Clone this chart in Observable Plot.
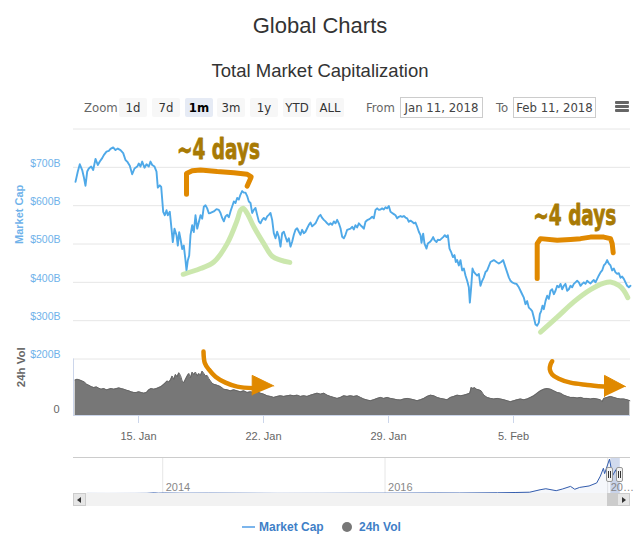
<!DOCTYPE html>
<html><head><meta charset="utf-8">
<script src="https://cdn.jsdelivr.net/npm/d3@7"></script>
<script src="https://cdn.jsdelivr.net/npm/@observablehq/plot@0.6"></script>
<style>
body{margin:0;background:#fff;}
#root{position:relative;width:640px;height:537px;overflow:hidden;background:#fff;font-family:"Liberation Sans",Arial,sans-serif;}
#root svg{display:block;overflow:visible;}
.narrow{font-family:"Liberation Sans Narrow","DejaVu Sans Condensed","Liberation Sans",sans-serif;font-stretch:condensed;}
</style></head><body><div id="root"></div><script>
// ---------- DATA ----------
// time is given as days after 11 Jan 2018 00:00 UTC
const BASE = Date.UTC(2018, 0, 11);
const viewRange = [0.36, 31.552];               // Jan 11 2018 -> Feb 11 2018
const marketCap = [ // [day, $B]
[0.472,662],[0.601,689],[0.713,708],[0.847,693],[0.937,675],[1.032,652],[1.127,689],[1.217,697],[1.351,702],[1.463,693],
[1.592,722],[1.721,706],[1.833,715],[1.967,724],[2.057,732],[2.208,741],[2.337,743],[2.432,748],[2.583,752],[2.712,745],
[2.841,749],[2.992,745],[3.143,737],[3.272,719],[3.367,715],[3.513,704],[3.647,682],[3.776,697],[3.927,702],[4.017,710],
[4.112,702],[4.207,715],[4.336,699],[4.448,708],[4.577,702],[4.672,715],[4.767,706],[4.896,702],[5.008,689],[5.081,647],
[5.193,653],[5.271,649],[5.383,584],[5.473,575],[5.568,588],[5.641,575],[5.753,584],[5.848,540],[5.921,505],[6.016,540],
[6.128,523],[6.201,496],[6.279,531],[6.352,513],[6.447,487],[6.537,496],[6.632,457],[6.688,431],[6.761,457],[6.839,470],
[6.912,523],[7.007,549],[7.097,531],[7.192,575],[7.287,540],[7.377,557],[7.472,575],[7.567,566],[7.657,597],[7.752,601],
[7.847,593],[7.937,580],
[8.032,581],[8.219,585],[8.368,591],[8.499,589],[8.592,581],[8.685,568],[8.779,559],[8.872,572],[8.965,576],[9.059,570],
[9.152,585],[9.245,598],[9.339,611],[9.432,607],[9.525,620],[9.619,616],[9.712,629],[9.805,638],[9.899,634],[9.992,634],
[10.085,625],[10.179,611],[10.272,607],[10.365,581],[10.459,589],[10.552,594],[10.645,576],[10.739,559],[10.832,554],[10.925,563],
[11.019,568],[11.112,563],[11.205,572],[11.299,576],[11.392,581],[11.485,563],[11.579,528],[11.672,515],[11.765,532],[11.859,519],
[11.952,493],[12.045,528],[12.139,532],[12.232,519],[12.325,506],[12.419,515],[12.512,493],[12.605,506],[12.699,524],[12.792,537],
[12.885,541],[12.979,532],[13.072,524],[13.165,537],[13.259,528],[13.352,532],[13.445,541],[13.539,550],[13.632,556],[13.725,546],
[13.819,550],[13.912,554],[14.005,563],[14.099,572],[14.192,576],[14.285,568],[14.379,563],[14.472,559],[14.565,554],[14.659,550],
[14.752,554],[14.845,550],[14.939,559],[15.032,554],[15.125,563],[15.219,554],[15.312,541],[15.405,519],[15.499,515],[15.592,524],
[15.685,537],
[15.872,540],[15.965,545],[16.059,538],[16.152,549],[16.245,543],[16.339,554],[16.432,549],[16.525,545],[16.619,540],[16.712,558],
[16.805,562],[16.899,564],[16.992,567],[17.085,571],[17.179,567],[17.272,589],[17.365,593],[17.459,589],[17.552,590],[17.645,593],
[17.739,590],[17.832,596],[17.925,593],[18.019,599],[18.112,584],[18.205,581],[18.299,578],[18.392,575],[18.485,567],[18.579,571],
[18.672,573],[18.765,571],[18.859,573],[18.952,569],[19.045,567],[19.139,558],[19.232,561],[19.325,558],[19.419,554],[19.512,556],
[19.605,545],[19.699,532],[19.792,523],[19.848,503],[19.941,527],[20.016,501],[20.128,488],[20.203,501],[20.315,505],[20.408,510],
[20.501,518],[20.576,510],[20.688,505],[20.763,511],[20.875,510],[20.968,514],[21.061,518],[21.155,523],[21.248,518],[21.323,523],
[21.416,488],[21.509,479],[21.603,466],[21.696,471],[21.771,453],[21.845,458],[21.939,444],[22.032,458],[22.125,431],[22.219,436],
[22.312,418],[22.405,404],[22.499,387],[22.555,347],[22.629,387],[22.704,436],[22.779,427],[22.872,422],[22.965,418],[23.059,422],
[23.152,391],[23.245,404],[23.339,413],[23.432,427],[23.525,431],
[23.712,453],[23.899,458],[24.048,453],[24.179,449],[24.309,453],[24.421,458],[24.552,439],[24.645,426],[24.739,413],[24.832,404],
[24.925,400],[25.056,397],[25.168,396],[25.299,387],[25.392,378],[25.485,369],[25.579,360],[25.672,343],[25.765,351],[25.859,334],
[25.952,330],[26.045,325],[26.139,308],[26.232,290],[26.325,287],[26.419,295],[26.475,317],[26.549,325],[26.624,339],[26.699,330],
[26.792,351],[26.885,365],[26.979,357],[27.072,378],[27.165,382],[27.259,369],[27.352,378],[27.445,391],[27.539,387],[27.632,396],
[27.725,382],[27.819,391],[27.912,396],[28.005,378],[28.099,382],[28.192,391],[28.285,387],[28.379,396],[28.472,400],[28.565,404],
[28.659,400],[28.752,391],[28.845,396],[28.939,400],[29.032,396],[29.125,404],[29.219,400],[29.312,397],[29.405,402],[29.499,406],
[29.592,400],[29.685,409],[29.779,418],[29.872,426],[29.965,431],[30.059,444],[30.152,449],[30.245,458],[30.339,449],[30.432,444],
[30.525,431],[30.619,436],[30.712,426],[30.805,422],[30.899,424],[30.992,412],[31.085,415],[31.179,409],[31.272,400],[31.365,391],
[31.459,387],[31.552,391]
];
const volume24h = [ // [day, $B]
[0.453,50.2],[0.565,51.2],[0.715,50.2],[0.845,48.8],[0.976,47.4],[1.088,44.2],[1.219,42.8],[1.349,40.9],[1.499,39.5],[1.648,40.5],
[1.779,38.6],[1.909,37.2],[2.059,38.1],[2.208,36.3],[2.339,37.2],[2.469,38.1],[2.619,37.2],[2.768,38.1],[2.899,39.1],[3.029,38.1],
[3.179,37.2],[3.328,35.8],[3.459,34.9],[3.589,33.5],[3.739,32.6],[3.888,32.6],[4.019,33.5],[4.149,32.6],[4.299,31.6],[4.448,32.6],
[4.579,36.3],[4.709,38.1],[4.859,37.2],[5.008,38.1],[5.139,39.5],[5.269,40.9],[5.419,44.2],[5.512,46.5],[5.605,48.8],[5.699,47.4],
[5.792,50.2],[5.885,55.8],[5.979,51.2],[6.072,58.1],[6.165,54.9],[6.259,60.5],[6.352,56.7],[6.445,48.8],[6.539,46.5],[6.632,51.2],
[6.725,55.8],[6.819,59.5],[6.912,53.5],[7.005,61.4],[7.099,58.1],[7.192,61.4],[7.285,55.8],[7.379,59.5],[7.472,56.7],[7.565,62.8],
[7.659,59.5],[7.752,55.8],[7.845,56.7],[7.939,52.1],[8.032,48.8],[8.125,45.6],[8.219,44.2],[8.405,42.8],[8.592,40.9],[8.779,37.2],
[8.965,36.3],[9.152,34.9],[9.339,36.3],[9.525,34.9],[9.712,33.5],[9.899,34.9],[10.085,32.6],[10.272,33.5],[10.459,32.6],[10.645,33.5],
[10.832,31.6],[11.019,30.2],[11.205,27.9],[11.392,27.0],[11.579,25.6],[11.765,27.0],[11.952,27.9],[12.139,27.0],[12.325,27.9],[12.512,28.8],
[12.699,27.9],[12.885,28.8],[13.072,27.0],[13.259,27.9],[13.445,27.0],[13.632,28.8],[13.819,30.2],[14.005,31.6],[14.192,30.2],[14.379,31.6],
[14.565,28.8],[14.752,27.0],[14.939,25.6],[15.125,24.2],[15.312,25.6],[15.499,27.9],[15.685,27.0],
[15.872,27.9],[16.059,27.0],[16.245,27.9],[16.432,25.6],[16.619,23.3],[16.805,21.9],[16.992,20.9],[17.179,22.3],[17.365,24.2],[17.552,25.6],
[17.739,24.2],[17.925,25.6],[18.112,24.2],[18.299,23.3],[18.485,22.3],[18.672,21.9],[18.859,23.3],[19.045,24.2],[19.232,23.3],[19.419,22.3],
[19.605,20.9],[19.792,22.3],[19.979,24.2],[20.165,27.0],[20.352,28.8],[20.539,27.9],[20.725,25.6],[20.912,24.2],[21.099,23.3],[21.285,22.3],
[21.472,25.6],[21.659,27.0],[21.845,28.8],[22.032,27.9],[22.219,28.8],[22.405,30.2],[22.555,31.6],[22.629,39.5],[22.741,38.1],[22.816,39.5],
[22.928,37.2],[23.059,36.3],[23.189,34.9],[23.339,28.8],[23.525,25.6],[23.712,24.2],[23.899,23.3],[24.085,24.2],[24.272,23.3],[24.459,22.3],
[24.645,20.9],[24.832,19.5],[25.019,20.9],[25.205,22.3],[25.392,23.3],[25.579,22.3],[25.765,23.3],[25.952,25.6],[26.139,27.9],[26.325,31.6],
[26.512,34.9],[26.699,37.2],[26.885,38.1],[27.072,37.2],[27.259,34.9],[27.445,32.6],[27.632,31.6],[27.819,28.8],[28.005,27.0],[28.192,25.6],
[28.379,25.6],[28.565,24.7],[28.752,25.6],[28.939,24.2],[29.125,24.2],[29.312,23.3],[29.499,24.2],[29.685,23.3],[29.872,22.3],[29.965,19.5],
[30.059,24.2],[30.245,25.6],[30.432,27.0],[30.619,25.6],[30.805,24.2],[30.992,23.3],[31.179,23.3],[31.365,22.3],[31.515,20.9]
];
const capGrid = [300, 400, 500, 600, 700, 800];
const capTickValues = [200, 300, 400, 500, 600, 700];
const xTickDates = ["2018-01-15", "2018-01-22", "2018-01-29", "2018-02-05"];
const xTickLabels = ["15. Jan", "22. Jan", "29. Jan", "5. Feb"];
const volTickValues = [0];

// navigator (whole history, $B)
const navDomain = ["2013-03-14", "2018-03-17"];
const navCap = [
["2013-04-28",1.6],["2013-07-05",1.1],["2013-10-01",1.9],["2013-11-10",4],["2013-12-04",14.5],["2013-12-18",7.5],["2014-01-06",11],
["2014-02-26",6.8],["2014-06-01",8.1],["2014-09-01",6.7],["2015-01-14",2.8],["2015-06-01",3.6],["2015-11-04",6.8],["2016-01-01",7],
["2016-06-17",12],["2016-09-01",10.3],["2017-01-04",17.7],["2017-03-03",24],["2017-04-20",31],["2017-05-24",90],["2017-06-12",115],
["2017-07-16",68],["2017-08-05",107],["2017-09-01",172],["2017-09-15",102],["2017-10-01",147],["2017-11-01",182],["2017-11-26",255],
["2017-12-08",420],["2017-12-18",610],["2017-12-22",480],["2018-01-07",830],["2018-01-17",430],["2018-01-28",575],["2018-02-06",285],["2018-02-11",395]
];
const navTickDates = ["2014-01-01", "2016-01-01", "2018-01-01"];
const navTickLabels = ["2014", "2016", "20…"];

// hand-drawn annotations, in data units
const annotationText = "~4 days";
const labelPos = [[8.48, 723], [28.433, 549]];       // [day, $B] baseline centre
const bracketLeft = [[6.688,630],[6.688,684],[7.007,691],[7.472,693],[8.407,689],[9.337,686],[10.087,682],[10.311,675],[10.087,651]];
const bracketRight = [[26.327,410],[26.327,501],[26.512,514],[27.447,510],[28.192,512],[28.752,514],[29.312,518],[30.057,518],[30.432,514],[30.527,501],[30.583,477]];
const greenLeft = [[6.503,421],[7.472,436],[8.217,453],[8.967,501],[9.527,562],[9.712,588],[9.863,593],[10.087,580],[10.457,545],[11.017,501],[11.487,468],[11.952,458],[12.473,452]];
const greenRight = [[26.512,270],[27.447,309],[28.377,349],[29.312,381],[30.057,398],[30.432,401],[30.897,392],[31.177,379],[31.401,360]];
const arrowLeft = [[7.640,90.7],[7.713,74.4],[7.937,65.2],[8.312,54.9],[8.872,46.5],[9.527,40.9],[10.457,38.7]];   // [day, vol $B]
const arrowLeftHead = [[11.577,41.9],[10.367,56.8],[10.367,28.9]];
const arrowRight = [[27.167,76.8],[27.072,72.2],[27.033,65.2],[27.167,58.2],[27.537,52.1],[28.192,46.5],[29.127,43.3],[30.057,40.9]];
const arrowRightHead = [[31.272,40.9],[30.096,56.8],[30.096,26.9]];

const rangeButtons = ["1d", "7d", "1m", "3m", "1y", "YTD", "ALL"];
const selectedButton = "1m";
const dateInputs = ["Jan 11, 2018", "Feb 11, 2018"];
const legendItems = ["Market Cap", "24h Vol"];

// ---------- HELPERS ----------
const toDate = t => new Date(BASE + t * 864e5);
const pts = arr => arr.map(([t, v]) => ({date: toDate(t), value: v}));
const xDomain = viewRange.map(toDate);
const root = document.getElementById("root");
function el(css, text, cls) {
  const e = document.createElement("div");
  e.style.cssText = "position:absolute;" + css;
  if (cls) e.className = cls;
  if (text != null) e.textContent = text;
  root.appendChild(e);
  return e;
}
function place(svg, top) {
  const w = el(`left:0;top:${top}px;width:640px;`);
  w.appendChild(svg);
}
const BLUE_LINE = "#4fa9e8", BLUE_TXT = "#6fb2ea", ORANGE = "#e08900", GOLD = "#a87a04", GREEN = "#c8e6a9";

// ---------- TITLES & RANGE SELECTOR ----------
el("left:0;top:13px;width:640px;text-align:center;font-size:22px;line-height:26px;color:#333;", "Global Charts");
el("left:0;top:60px;width:640px;text-align:center;font-size:18.5px;line-height:22px;color:#333;", "Total Market Capitalization");
el("left:84px;top:98px;height:19px;line-height:19px;font-size:13px;color:#666;", "Zoom", "narrow");
const btnX = [119, 152, 185, 217, 250, 283, 316];
rangeButtons.forEach((b, i) => {
  const sel = b === selectedButton;
  el(`left:${btnX[i]}px;top:98px;width:28px;height:19px;line-height:19px;text-align:center;font-size:13px;border-radius:2px;` +
     `background:${sel ? "#e6ebf5" : "#f7f7f7"};color:${sel ? "#000" : "#333"};font-weight:${sel ? "bold" : "normal"};`, b, "narrow");
});
el("left:366px;top:98px;height:19px;line-height:19px;font-size:13px;color:#666;", "From", "narrow");
el("left:496px;top:98px;height:19px;line-height:19px;font-size:13px;color:#666;", "To", "narrow");
[400, 513].forEach((x, i) => {
  el(`left:${x}px;top:97px;width:83px;height:21px;box-sizing:border-box;border:1px solid #cccccc;line-height:19px;text-align:center;font-size:13px;color:#444;`, dateInputs[i], "narrow");
});
[101.2, 105.3, 109.4].forEach(y => el(`left:615px;top:${y}px;width:14px;height:3px;background:#666;border-radius:1px;`));

// ---------- MAIN PANEL (market cap) ----------
const main = Plot.plot({
  width: 640, height: 240, marginLeft: 73, marginRight: 10, marginTop: 8.5, marginBottom: 1.5,
  x: {type: "utc", domain: xDomain, axis: null},
  y: {domain: [200, 800], axis: null},
  style: {background: "transparent", overflow: "visible"},
  marks: [
    Plot.ruleY(capGrid, {stroke: "#e6e6e6", strokeWidth: 1}),
    Plot.ruleY([200], {stroke: "#e6e6e6", strokeWidth: 1}),
    Plot.text(capTickValues, {y: d => d, text: d => `$${d}B`, frameAnchor: "left", textAnchor: "end", dx: -13, dy: -4,
      fill: BLUE_TXT, fontSize: 10.5, fontFamily: "Liberation Sans, Arial, sans-serif"}),
    Plot.text([legendItems[0]], {frameAnchor: "left", dx: -54, rotate: -90, fill: BLUE_TXT, fontSize: 11, fontWeight: "bold",
      fontFamily: "Liberation Sans, Arial, sans-serif"}),
    Plot.line(pts(marketCap), {x: "date", y: "value", stroke: BLUE_LINE, strokeWidth: 1.9}),
    Plot.line(pts(greenLeft), {x: "date", y: "value", stroke: GREEN, strokeWidth: 5, strokeOpacity: 0.95, strokeLinecap: "round", curve: "catmull-rom"}),
    Plot.line(pts(greenRight), {x: "date", y: "value", stroke: GREEN, strokeWidth: 5, strokeOpacity: 0.95, strokeLinecap: "round", curve: "catmull-rom"}),
    Plot.line(pts(bracketLeft), {x: "date", y: "value", stroke: ORANGE, strokeWidth: 5, strokeLinecap: "round", strokeLinejoin: "round"}),
    Plot.line(pts(bracketRight), {x: "date", y: "value", stroke: ORANGE, strokeWidth: 5, strokeLinecap: "round", strokeLinejoin: "round"}),
    Plot.text(pts(labelPos), {x: "date", y: "value", text: () => annotationText, lineAnchor: "bottom", fill: GOLD,
      stroke: GOLD, strokeWidth: 0.8, fontSize: 28, fontWeight: "bold",
      fontFamily: "'Liberation Sans Narrow','DejaVu Sans Condensed','Liberation Sans',sans-serif"})
  ]
});
place(main, 120);
// the hand-lettered label is a tall condensed face: squeeze it horizontally about its own anchor to its width in the picture
main.querySelectorAll("text").forEach(t => {
  if (t.textContent !== annotationText) return;
  const len = t.getComputedTextLength();
  if (!(len > 0)) return;
  const s = Math.min(1, 83 / len);
  const xa = t.getAttribute("x"), ya = t.getAttribute("y");
  if (xa != null && ya != null && xa !== "" && ya !== "") {
    const x = parseFloat(xa), y = parseFloat(ya);
    const prev = t.getAttribute("transform") || "";
    t.setAttribute("transform", `${prev} translate(${x},${y}) scale(${s},1) translate(${-x},${-y})`.trim());
  } else {
    const prev = t.getAttribute("transform") || "";
    t.setAttribute("transform", `${prev} scale(${s},1)`.trim());
  }
});

// ---------- VOLUME PANEL ----------
const tickDates = xTickDates.map(d => new Date(d + "T00:00:00Z"));
const tickLabel = d => xTickLabels[tickDates.findIndex(t => +t === +d)];
const vol = Plot.plot({
  width: 640, height: 105, marginLeft: 73, marginRight: 10, marginTop: 18.5, marginBottom: 30,
  x: {type: "utc", domain: xDomain},
  y: {domain: [0, 80], axis: null},
  style: {background: "transparent", overflow: "visible"},
  marks: [
    Plot.areaY(pts(volume24h), {x: "date", y: "value", fill: "#777777"}),
    Plot.lineY(pts(volume24h), {x: "date", y: "value", stroke: "#666666", strokeWidth: 1}),
    Plot.ruleY([0], {stroke: "#ccd6eb"}),
    Plot.ruleX([xDomain[0]], {stroke: "#ccd6eb"}),
    Plot.axisX({ticks: tickDates, tickSize: 8, tickPadding: 9, tickFormat: tickLabel, stroke: "#ccd6eb", fill: "#666",
      fontSize: 11, label: null, fontFamily: "Liberation Sans, Arial, sans-serif"}),
    Plot.text(volTickValues, {y: d => d, text: d => String(d), frameAnchor: "left", textAnchor: "end", dx: -14, dy: -6,
      fill: "#666", fontSize: 11, fontFamily: "Liberation Sans, Arial, sans-serif"}),
    Plot.text([legendItems[1]], {frameAnchor: "left", dx: -52, rotate: -90, fill: "#666", fontSize: 11.5, fontWeight: "bold",
      fontFamily: "Liberation Sans, Arial, sans-serif"}),
    Plot.line(pts(arrowLeft), {x: "date", y: "value", stroke: ORANGE, strokeWidth: 4.5, strokeLinecap: "round", curve: "catmull-rom"}),
    Plot.line(pts(arrowLeftHead), {x: "date", y: "value", fill: ORANGE, stroke: ORANGE, strokeWidth: 1, strokeLinejoin: "round"}),
    Plot.line(pts(arrowRight), {x: "date", y: "value", stroke: ORANGE, strokeWidth: 4.5, strokeLinecap: "round", curve: "catmull-rom"}),
    Plot.line(pts(arrowRightHead), {x: "date", y: "value", fill: ORANGE, stroke: ORANGE, strokeWidth: 1, strokeLinejoin: "round"})
  ]
});
place(vol, 340);

// ---------- NAVIGATOR ----------
const navPts = navCap.map(([d, v]) => ({date: new Date(d + "T00:00:00Z"), value: v}));
const navTicks = navTickDates.map(d => new Date(d + "T00:00:00Z"));
const nav = Plot.plot({
  width: 640, height: 36, marginLeft: 73, marginRight: 10, marginTop: 0, marginBottom: 0,
  x: {type: "utc", domain: navDomain.map(d => new Date(d + "T00:00:00Z")), axis: null},
  y: {domain: [0, 870], axis: null},
  style: {background: "transparent", overflow: "visible"},
  marks: [
    Plot.rect([{a: xDomain[0], b: xDomain[1]}], {x1: "a", x2: "b", fill: "#6685c2", fillOpacity: 0.3}),
    Plot.ruleX(navTicks, {stroke: "#e6e6e6"}),
    Plot.text(navTicks, {x: d => d, text: (d, i) => navTickLabels[i], frameAnchor: "bottom", lineAnchor: "bottom", textAnchor: "start",
      dx: 3, dy: -3, fill: "#888", fontSize: 11, fontFamily: "Liberation Sans, Arial, sans-serif"}),
    Plot.areaY(navPts, {x: "date", y: "value", fill: "#335cad", fillOpacity: 0.05}),
    Plot.line(navPts, {x: "date", y: "value", stroke: "#335cad", strokeWidth: 1}),
    Plot.ruleY([870], {stroke: "#cccccc"})
  ]
});
place(nav, 457);

// handles
[606, 616].forEach(x => {
  el(`left:${x}px;top:467px;width:7px;height:15px;box-sizing:border-box;background:#f2f2f2;border:1px solid #999;border-radius:2px;`);
  el(`left:${x + 2}px;top:471px;width:1px;height:7px;background:#333;`);
  el(`left:${x + 4}px;top:471px;width:1px;height:7px;background:#333;`);
});
// scrollbar
el("left:73px;top:493px;width:557px;height:13px;background:#f2f2f2;");
el("left:607px;top:493px;width:10px;height:13px;background:#cccccc;");
el("left:73px;top:493px;width:13px;height:13px;box-sizing:border-box;background:#e6e6e6;border:1px solid #cccccc;");
el("left:77px;top:496.5px;width:0;height:0;border-top:3px solid transparent;border-bottom:3px solid transparent;border-right:4px solid #333;");
el("left:617px;top:493px;width:13px;height:13px;box-sizing:border-box;background:#e6e6e6;border:1px solid #cccccc;");
el("left:622px;top:496.5px;width:0;height:0;border-top:3px solid transparent;border-bottom:3px solid transparent;border-left:4px solid #333;");

// ---------- LEGEND ----------
el("left:242px;top:526px;width:13px;height:2px;background:#7cb5ec;");
el("left:259px;top:519px;line-height:16px;font-size:12px;font-weight:bold;color:#3f7fc7;", legendItems[0]);
el("left:342px;top:522px;width:10px;height:10px;border-radius:50%;background:#777;");
el("left:359px;top:519px;line-height:16px;font-size:12px;font-weight:bold;color:#3f7fc7;", legendItems[1]);
</script></body></html>
